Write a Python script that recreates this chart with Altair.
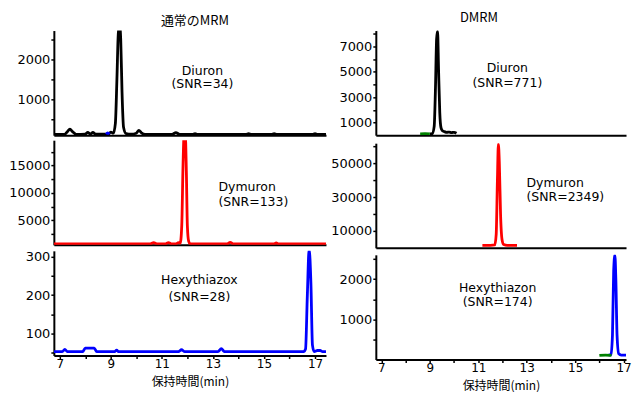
import altair as alt
import pandas as pd

# ---------------- data ----------------
# 通常のMRM : Diuron (black) + small blue blip
tl_time = [6.8, 7.2, 7.3, 7.4, 7.5, 7.65, 8.0, 8.1, 8.2, 8.3, 8.4, 8.9, 9.0, 9.1, 9.18, 9.24,
           9.29, 9.34, 9.39, 9.44, 9.5, 9.6, 9.8, 10.0, 10.1, 10.2, 10.35, 11.4, 11.55, 11.7,
           12.2, 12.3, 12.4, 14.3, 14.4, 14.5, 15.3, 15.4, 15.5, 16.9, 17.0, 17.1, 17.43]
tl_signal = [120, 125, 190, 250, 190, 120, 125, 170, 130, 170, 125, 125, 180, 150, 400, 1500,
             2600, 2900, 2500, 1200, 300, 140, 125, 150, 220, 160, 120, 120, 165, 120,
             120, 140, 120, 120, 140, 120, 120, 140, 120, 120, 140, 120, 120]
tl_blue_time = [8.82, 8.88, 8.95]
tl_blue_signal = [125, 160, 125]

# DMRM : Diuron (black) + green segment
tr_time = [9.0, 9.1, 9.18, 9.23, 9.28, 9.32, 9.36, 9.41, 9.46, 9.52, 9.6, 9.7, 9.8, 9.9, 10.0, 10.1]
tr_signal = [100, 130, 700, 3500, 7600, 8200, 5200, 1800, 600, 350, 280, 220, 250, 200, 230, 150]
tr_green_time = [8.6, 8.8, 9.0]
tr_green_signal = [110, 120, 110]

# 通常のMRM : Dymuron (red)
ml_time = [6.77, 10.55, 10.68, 10.8, 11.15, 11.26, 11.37, 11.55, 11.65, 11.72, 11.78, 11.83,
           11.87, 11.92, 11.96, 12.0, 12.05, 12.1, 12.2, 13.55, 13.68, 13.8, 15.4, 15.48, 15.56, 17.43]
ml_signal = [700, 700, 950, 700, 700, 950, 700, 700, 950, 800, 4000, 15000,
             20500, 20500, 14000, 4000, 1200, 750, 700, 700, 1000, 700, 700, 900, 700, 700]

# DMRM : Dymuron (red)
mr_time = [11.17, 11.5, 11.68, 11.74, 11.79, 11.83, 11.87, 11.92, 11.98, 12.05, 12.2, 12.6]
mr_signal = [1500, 1500, 1700, 8000, 40000, 61500, 50000, 20000, 5000, 2000, 1500, 1500]

# 通常のMRM : Hexythiazox (blue)
bl_time = [6.77, 7.1, 7.2, 7.3, 7.9, 8.0, 8.2, 8.35, 8.45, 9.15, 9.23, 9.3, 11.65, 11.77, 11.9,
           13.2, 13.33, 13.45, 16.55, 16.63, 16.7, 16.77, 16.84, 16.9, 16.97, 17.1, 17.2, 17.3, 17.43]
bl_signal = [53, 53, 59, 53, 53, 62, 62, 62, 53, 53, 57, 53, 53, 58, 53,
             53, 61, 53, 53, 60, 200, 320, 230, 70, 53, 56, 56, 53, 53]

# DMRM : Hexythiazon (blue) + green segment
br_time = [16.38, 16.48, 16.54, 16.59, 16.64, 16.68, 16.73, 16.8, 16.9, 17.1]
br_signal = [110, 120, 600, 2200, 2600, 2000, 600, 140, 110, 110]
br_green_time = [16.0, 16.25, 16.5]
br_green_signal = [100, 110, 100]

# annotations
tl_notes = [(12.59, 1720, "Diuron"), (12.59, 1380, "(SNR=34)")]
tr_notes = [(12.2, 5300, "Diuron"), (12.2, 4150, "(SNR=771)")]
ml_notes = [(13.22, 11072, "Dymuron"), (13.22, 8393, "(SNR=133)")]
mr_notes = [(12.99, 38571, "Dymuron"), (12.99, 30000, "(SNR=2349)")]
bl_notes = [(12.47, 240, "Hexythiazox"), (12.47, 196, "(SNR=28)")]
br_notes = [(11.8, 1791, "Hexythiazon"), (11.8, 1442, "(SNR=174)")]

x_ticks = [7, 8, 9, 10, 11, 12, 13, 14, 15, 16, 17]

BLACK, RED, BLUE, GREEN = "#000000", "#ff0000", "#0000ff", "#008000"
JP = "Noto Sans CJK JP"


def panel(series, ydom, yticks, ycond, notes, align, xdom, width, height,
          bottom=False, title=None):
    rows = []
    for k, (ts, vs, col) in enumerate(series):
        for t, v in zip(ts, vs):
            rows.append({"t": t, "v": v, "s": k, "c": col})
    df = pd.DataFrame(rows)
    if bottom:
        xaxis = alt.Axis(values=x_ticks, labelExpr="datum.value % 2 == 1 ? datum.label : ''",
                         format="d", title="保持時間(min)", tickSize=3, tickWidth=1.5,
                         domainWidth=2, labelFontSize=12, labelPadding=0, titlePadding=7,
                         titleFontSize=12, labelFlush=False, labelOverlap=False)
    else:
        xaxis = alt.Axis(labels=False, ticks=False, title=None, domainWidth=2)
    x = alt.X("t:Q", scale=alt.Scale(domain=xdom, nice=False, zero=False), axis=xaxis)
    yaxis = alt.Axis(values=yticks, labelExpr=f"{ycond} ? datum.label : ''", format="d",
                     title=None, tickSize=3, tickWidth=1.5, domainWidth=2, labelPadding=1,
                     labelOverlap=False)
    y = alt.Y("v:Q", scale=alt.Scale(domain=ydom, nice=False, zero=False), axis=yaxis)
    lines = alt.Chart(df).mark_line(strokeWidth=2.8, clip=True, interpolate="monotone").encode(
        x=x, y=y, detail="s:N", color=alt.Color("c:N", scale=None))
    tdf = pd.DataFrame(notes, columns=["t", "v", "label"])
    text = alt.Chart(tdf).mark_text(font="DejaVu Sans", fontSize=12.5, align=align,
                                    baseline="middle", color="black").encode(
        x=x, y=y, text="label:N")
    ch = alt.layer(lines, text).properties(width=width, height=height)
    if title is not None:
        ch = ch.properties(title=title)
    return ch


LX = [6.77, 17.43]
RX = [6.77, 17.1]
LW, RW = 273, 251
H = 105

tl = panel([(tl_time, tl_signal, BLACK), (tl_blue_time, tl_blue_signal, BLUE)],
           [100, 2730], [500, 1000, 1500, 2000, 2500], "datum.value % 1000 == 0",
           tl_notes, "center", LX, LW, H,
           title=alt.Title("通常のMRM", font=JP, fontSize=13, fontWeight="normal",
                           anchor="middle", offset=3, dx=5, color="black"))
ml = panel([(ml_time, ml_signal, RED)], [530, 19640],
           [2500, 5000, 7500, 10000, 12500, 15000, 17500], "datum.value % 5000 == 0",
           ml_notes, "left", LX, LW, H)
bl = panel([(bl_time, bl_signal, BLUE)], [43, 315], [50, 100, 150, 200, 250, 300],
           "datum.value % 100 == 0", bl_notes, "center", LX, LW, H, bottom=True)

tr = panel([(tr_time, tr_signal, BLACK), (tr_green_time, tr_green_signal, GREEN)],
           [0, 8250], [1000, 2000, 3000, 4000, 5000, 6000, 7000, 8000],
           "datum.value % 2000 == 1000", tr_notes, "center", RX, RW, H,
           title=alt.Title("DMRM", font=JP, fontSize=13, fontWeight="normal",
                           anchor="middle", offset=3, dx=-22, color="black"))
mr = panel([(mr_time, mr_signal, RED)], [0, 62000],
           [10000, 20000, 30000, 40000, 50000, 60000], "datum.value % 20000 == 10000",
           mr_notes, "left", RX, RW, H)
br = panel([(br_time, br_signal, BLUE), (br_green_time, br_green_signal, GREEN)],
           [0, 2605], [500, 1000, 1500, 2000, 2500], "datum.value % 1000 == 0",
           br_notes, "center", RX, RW, H, bottom=True)

left = alt.vconcat(tl, ml, bl, spacing=5)
right = alt.vconcat(tr, mr, br, spacing=5)

chart = alt.hconcat(left, right, spacing=4).properties(
    padding={"left": 0, "top": 3, "right": 0, "bottom": 0}
).configure_view(stroke=None).configure_axis(
    labelFont="DejaVu Sans", labelFontSize=13, labelColor="black", tickColor="black",
    domainColor="black", grid=False, titleFont=JP, titleColor="black",
    titleFontWeight="normal"
)

chart.save("out.html", embed_options={"renderer": "svg", "actions": False})
